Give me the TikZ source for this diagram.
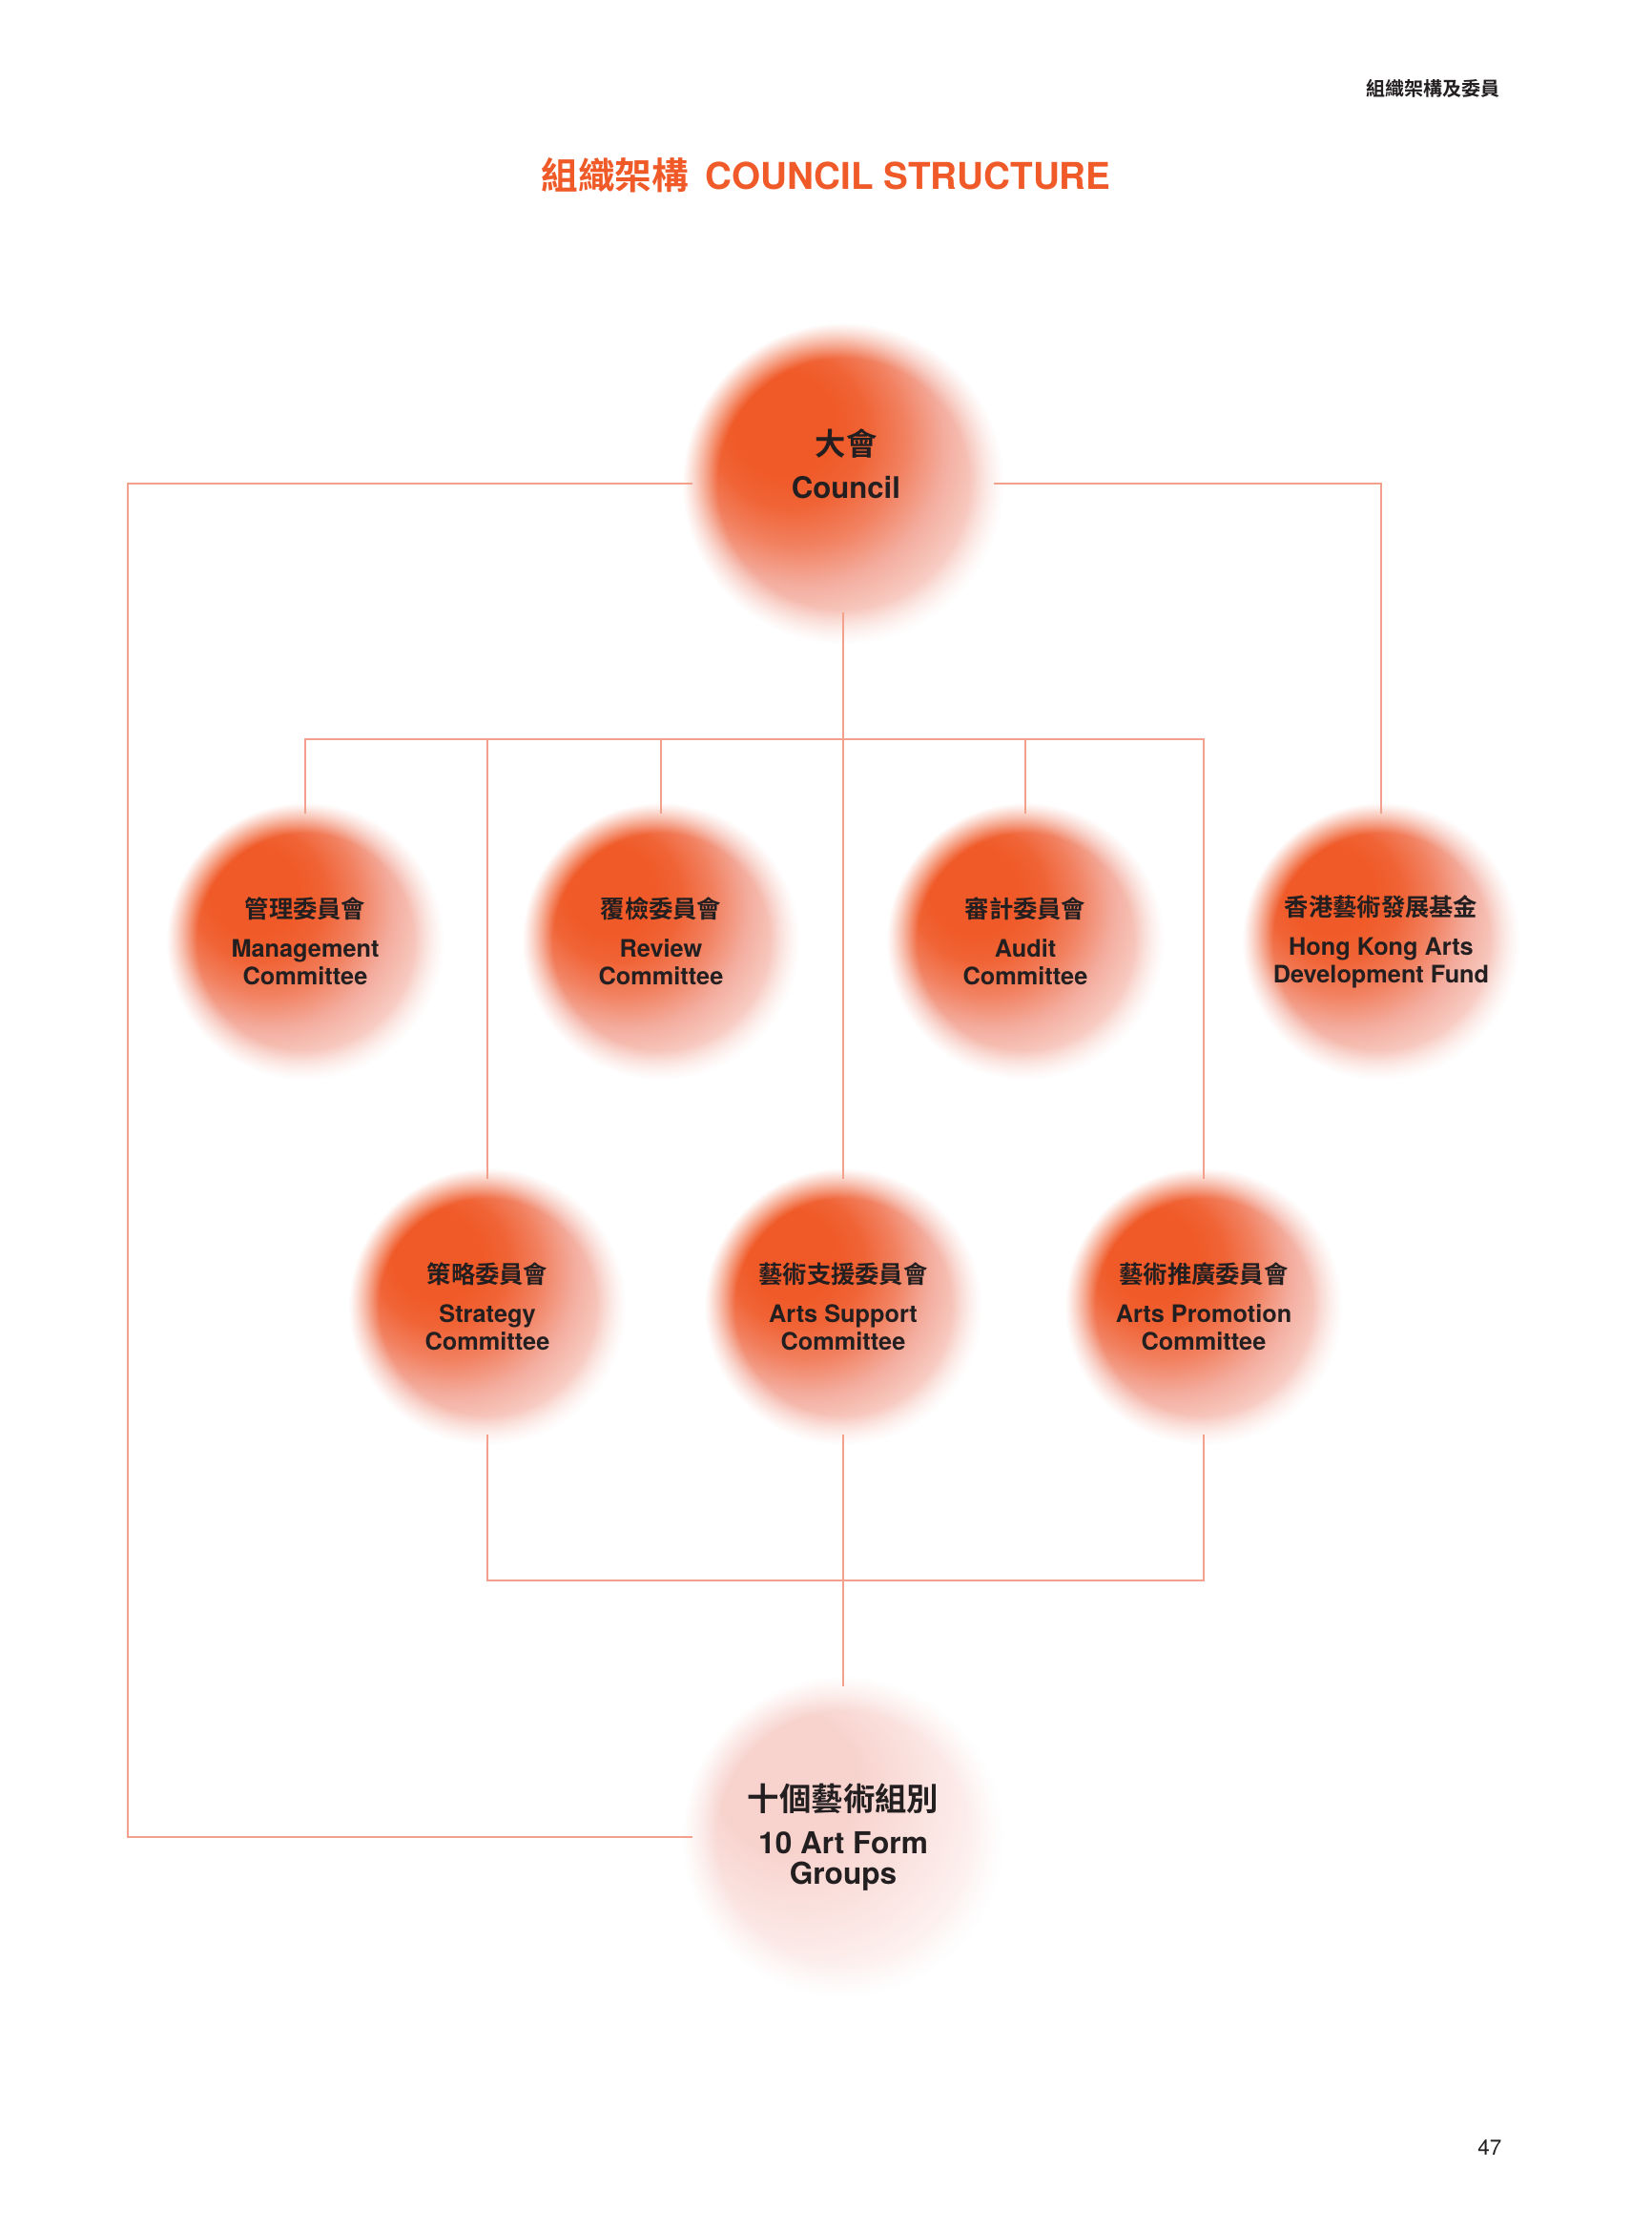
\documentclass[tikz,border=0pt]{standalone}
\usepackage{fontspec}
\setmainfont{TeX Gyre Heros}
\newfontfamily\cjk{Noto Sans CJK TC}[BoldFont={Noto Sans CJK TC Bold}]
\usetikzlibrary{fadings}

\definecolor{hkorange}{HTML}{F05A28}
\definecolor{hkpink}{HTML}{F3A99A}
\definecolor{hkpale}{HTML}{F8D3CE}
\definecolor{hkline}{HTML}{F3A08C}
\definecolor{hkink}{HTML}{231F20}

% soft discs: hot spot up left, fading out to the lower right
\pgfdeclareradialshading{hkdisc}{\pgfqpoint{-11bp}{11bp}}{color(0bp)=(hkorange); color(8bp)=(hkorange); color(12bp)=(hkorange!88!hkpink); color(17bp)=(hkorange!50!hkpink); color(22bp)=(hkpink!95!white); color(26bp)=(hkpink!65!white); color(29bp)=(hkpink!40!white); color(32bp)=(hkpink!15!white); color(35bp)=(white); color(50bp)=(white)}
\pgfdeclareradialshading{hkpaledisc}{\pgfqpoint{-11bp}{11bp}}{color(0bp)=(hkpale); color(11bp)=(hkpale); color(19bp)=(hkpale!65!white); color(26bp)=(hkpale!35!white); color(32bp)=(hkpale!10!white); color(35bp)=(white); color(50bp)=(white)}
\pgfdeclareradialshading{hkedgeshade}{\pgfpointorigin}{color(0bp)=(pgftransparent!0); color(19.5bp)=(pgftransparent!0); color(25bp)=(pgftransparent!100); color(50bp)=(pgftransparent!100)}
\pgfdeclarefading{hkedge}{\pgfuseshading{hkedgeshade}}

\begin{document}
\begin{tikzpicture}[
  link/.style={hkline, line width=0.6pt},
  disc/.style={circle, inner sep=0pt, minimum size=2.9cm, outer sep=-0.11cm,
    shade, shading=hkdisc, path fading=hkedge},
  bigdisc/.style={disc, minimum size=3.36cm, outer sep=-0.1cm},
  small/.style={text=hkink, align=center, font=\fontsize{7.2}{8.25}\selectfont\bfseries},
  large/.style={small, font=\fontsize{9}{9.1}\selectfont\bfseries},
]
  \fill[white] (0,0) rectangle (17.32,-23.38);
  % page furniture
  \node[anchor=base east, text=hkink, inner sep=0pt] (runhead) at (15.73,-1.00)
    {\cjk\bfseries\fontsize{5.7}{6}\selectfont 組織架構及委員};
  \node[anchor=base, text=hkorange, inner sep=0pt, font=\fontsize{11}{13}\selectfont\bfseries] (title) at (8.66,-1.98)
    {{\cjk 組織架構}\hspace{5pt}COUNCIL STRUCTURE};
  \node[anchor=base east, text=hkink, inner sep=0pt] (folio) at (15.75,-22.59)
    {\fontsize{6.4}{7}\selectfont 47};

  % council on top, art form groups at the bottom
  \node[bigdisc, label={[large, font=\fontsize{8.85}{10}\selectfont\bfseries, xshift=0.03cm, yshift=0.21cm]center:{{\cjk\fontsize{9.2}{10}\selectfont 大會}\\[2.8pt]Council}}]
    (council) at (8.84,-5.07) {};
  \node[bigdisc, shading=hkpaledisc, label={[large]center:{{\cjk\fontsize{9.5}{10}\selectfont 十個藝術組別}\\[3.7pt]10 Art Form\\Groups}}]
    (groups) at (8.84,-19.26) {};

  % committees, two rows
  \foreach \id/\px/\py/\zh/\en in {
      mgmt/3.20/-9.87/管理委員會/Management\\Committee,
      review/6.93/-9.87/覆檢委員會/Review\\Committee,
      audit/10.75/-9.87/審計委員會/Audit\\Committee,
      fund/14.48/-9.87/香港藝術發展基金/Hong Kong Arts\\Development Fund,
      strategy/5.11/-13.70/策略委員會/Strategy\\Committee,
      support/8.84/-13.70/藝術支援委員會/Arts Support\\Committee,
      promotion/12.62/-13.70/藝術推廣委員會/Arts Promotion\\Committee}
    \node[disc, label={[small]center:{{\cjk\zh}\\[3.4pt]\en}}] (\id) at (\px,\py) {};

  % connectors
  \coordinate (bar) at (0,-7.75);
  \coordinate (lowbar) at (0,-16.57);
  \coordinate (rail) at (1.34,0);
  \draw[link] ([yshift=0.23cm]council.south) -- (support.north);
  \draw[link] (mgmt.north) |- (promotion.north |- bar) -- (promotion.north);
  \foreach \id in {review,audit,strategy}
    \draw[link] (\id.north) -- (\id.north |- bar);
  \draw[link] (strategy.south) |- (promotion.south |- lowbar) -- (promotion.south);
  \draw[link] (support.south) -- (groups.north);
  \draw[link] (council.west) -| (rail |- groups.west) -- (groups.west);
  \draw[link] (council.east) -| (fund.north);
\end{tikzpicture}
\end{document}
